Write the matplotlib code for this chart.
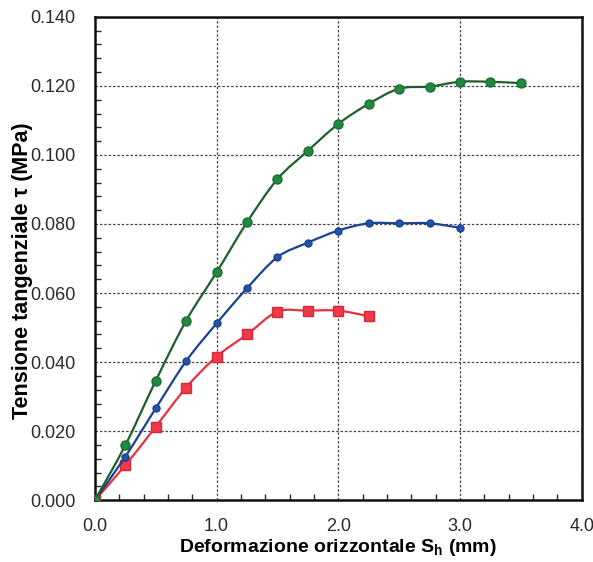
import matplotlib
matplotlib.use("Agg")
import matplotlib.pyplot as plt
from matplotlib.ticker import MultipleLocator
from matplotlib.path import Path
from matplotlib.patches import PathPatch

plt.rcParams['font.family'] = ['Liberation Sans', 'DejaVu Sans']

# Horizontal displacement (mm) and shear stress (MPa)
x_green = [0.0, 0.25, 0.5, 0.75, 1.0, 1.25, 1.5, 1.75, 2.0, 2.25, 2.5, 2.75, 3.0, 3.25, 3.5]
y_green = [0.0, 0.0159, 0.0346, 0.0520, 0.0660, 0.0805, 0.0930, 0.1012, 0.1090, 0.1148, 0.1192, 0.1198, 0.1212, 0.1212, 0.1208]

x_blue = [0.0, 0.25, 0.5, 0.75, 1.0, 1.25, 1.5, 1.75, 2.0, 2.25, 2.5, 2.75, 3.0]
y_blue = [0.0, 0.0126, 0.0266, 0.0403, 0.0512, 0.0614, 0.0704, 0.0746, 0.0781, 0.0802, 0.0802, 0.0802, 0.0789]

x_red = [0.0, 0.25, 0.5, 0.75, 1.0, 1.25, 1.5, 1.75, 2.0, 2.25]
y_red = [0.0, 0.0101, 0.0213, 0.0326, 0.0416, 0.0480, 0.0546, 0.0549, 0.0549, 0.0533]

x_ticks = [0.0, 1.0, 2.0, 3.0, 4.0]
y_ticks = [0.000, 0.020, 0.040, 0.060, 0.080, 0.100, 0.120, 0.140]


def smooth_path(xs, ys):
    """Catmull-Rom curve through the points, as cubic Bezier segments."""
    pts = list(zip(xs, ys))
    verts = [pts[0]]
    codes = [Path.MOVETO]
    n = len(pts)
    for i in range(n - 1):
        p0 = pts[i - 1] if i > 0 else pts[i]
        p1 = pts[i]
        p2 = pts[i + 1]
        p3 = pts[i + 2] if i + 2 < n else pts[i + 1]
        c1 = (p1[0] + (p2[0] - p0[0]) / 6, p1[1] + (p2[1] - p0[1]) / 6)
        c2 = (p2[0] - (p3[0] - p1[0]) / 6, p2[1] - (p3[1] - p1[1]) / 6)
        verts += [c1, c2, p2]
        codes += [Path.CURVE4] * 3
    return Path(verts, codes)


fig = plt.figure(figsize=(5.93, 5.62), dpi=100)
ax = fig.add_axes([0.160, 0.110, 0.821, 0.860])

series = [
    (x_red, y_red, '#e8303f', 's', 6.5, '#ee3a48', '#d82838', 3),
    (x_blue, y_blue, '#1a3f94', 'o', 5.0, '#1f56a8', '#1a3f94', 4),
    (x_green, y_green, '#1d5e2a', 'o', 6.5, '#1f8a40', '#1d6e30', 5),
]
for xs, ys, lc, mk, ms, mfc, mec, z in series:
    ax.add_patch(PathPatch(smooth_path(xs, ys), facecolor='none',
                           edgecolor=lc, lw=1.6, zorder=z))
    ax.plot(xs, ys, ls='none', marker=mk, ms=ms, mfc=mfc, mec=mec, zorder=z)

ax.set_xlim(0, 4.0)
ax.set_ylim(0, 0.140)
ax.set_xticks(x_ticks)
ax.set_xticklabels([f"{v:.1f}" for v in x_ticks])
ax.set_yticks(y_ticks)
ax.set_yticklabels([f"{v:.3f}" for v in y_ticks])
ax.xaxis.set_minor_locator(MultipleLocator(0.2))
ax.yaxis.set_minor_locator(MultipleLocator(0.004))

ax.tick_params(which='both', direction='in', top=False, right=False,
               labelsize=13, colors='#2a2a2a')
ax.tick_params(which='major', length=0)
ax.tick_params(axis='y', which='major', pad=14)
ax.tick_params(axis='x', which='major', pad=13)
ax.tick_params(which='minor', length=4, width=1)

ax.grid(True, which='major', color='#444444', lw=0.9, ls=(0, (2, 1.5)), zorder=1)

for s in ax.spines.values():
    s.set_linewidth(1.8)
    s.set_color('#111111')

ax.set_xlabel('Deformazione orizzontale S$_\\mathregular{h}$ (mm)',
              fontsize=14, fontweight='bold', labelpad=1)
ax.set_ylabel('Tensione tangenziale τ (MPa)', fontsize=15.5,
              fontweight='bold')
ax.yaxis.set_label_coords(-0.128, 0.475)

fig.savefig('out.png', dpi=100)
